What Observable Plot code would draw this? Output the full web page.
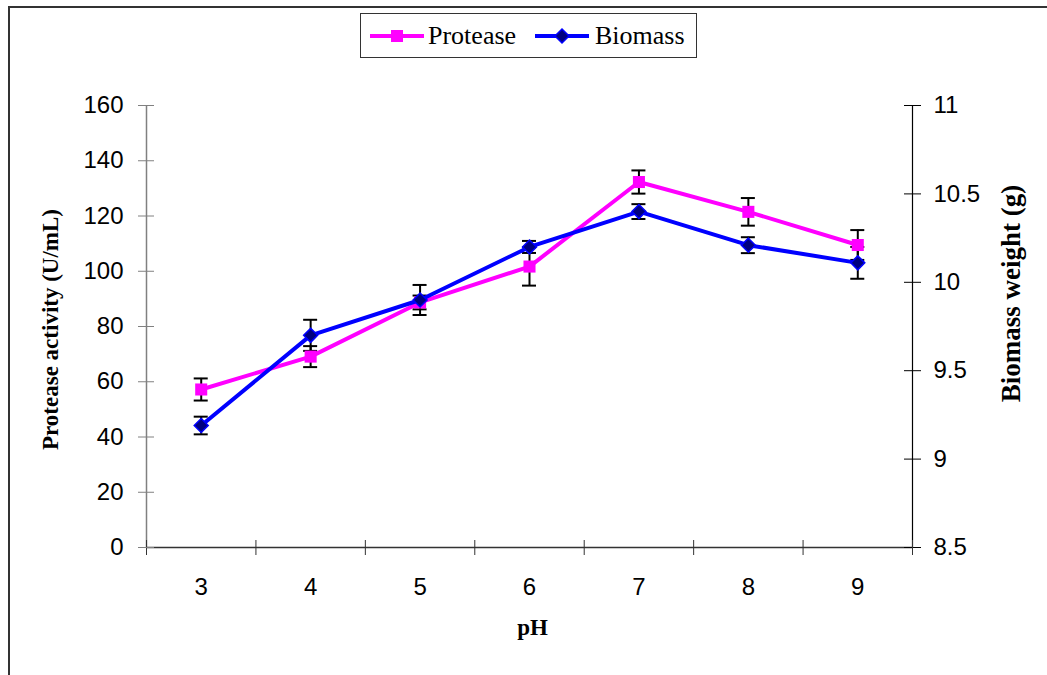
<!DOCTYPE html>
<html>
<head>
<meta charset="utf-8">
<script src="https://cdn.jsdelivr.net/npm/d3@7"></script>
<script src="https://cdn.jsdelivr.net/npm/@observablehq/plot@0.6"></script>
<style>
  html, body { margin: 0; padding: 0; background: #fff; }
  #page { position: relative; width: 1047px; height: 675px; overflow: hidden; background: #fff; }
  #frame { position: absolute; left: 8px; top: 6px; width: 1040px; height: 700px; z-index: 2; pointer-events: none;
           border-top: 2px solid #333; border-left: 2px solid #333; box-sizing: border-box; }
  #header { position: relative; height: 60px; }
  #legend { position: absolute; left: 360px; top: 13px; width: 337px; height: 45px;
            border: 1px solid #333; box-sizing: border-box; background: #fff;
            font-family: "Liberation Serif", "Times New Roman", serif; font-size: 26px; }
  #legend .item { position: absolute; top: 0; height: 43px; line-height: 43px; }
  #legend svg { position: absolute; top: 0; }
  #chart { position: absolute; left: 0; top: 60px; }
</style>
</head>
<body>
<div id="page">
  <div id="frame"></div>
  <div id="header"><div id="legend"></div></div>
  <div id="chart"></div>
</div>
<script>
// ---- data ----
const pH = [3, 4, 5, 6, 7, 8, 9];
const protease = [57.2, 69.1, 88.7, 101.7, 132.3, 121.5, 109.5];
const proteaseErr = [4.0, 3.8, 2.5, 6.9, 4.2, 5.0, 5.4];
const biomass = [9.19, 9.70, 9.90, 10.20, 10.40, 10.21, 10.11];
const biomassErr = [0.05, 0.088, 0.085, 0.034, 0.042, 0.045, 0.09];
const leftTicks = [0, 20, 40, 60, 80, 100, 120, 140, 160];
const rightTicks = [8.5, 9, 9.5, 10, 10.5, 11];
const seriesNames = ["Protease", "Biomass"];
const colors = {Protease: "#FF00FF", Biomass: "#0000FF"};

// ---- derived ----
const pDomain = [leftTicks[0], leftTicks[leftTicks.length - 1]];
const bDomain = [rightTicks[0], rightTicks[rightTicks.length - 1]];
const bToP = d3.scaleLinear().domain(bDomain).range(pDomain);
const xDomain = [pH[0] - 0.5, pH[pH.length - 1] + 0.5];
const bandEdges = [...pH.map(v => v - 0.5), pH[pH.length - 1] + 0.5];
const rows = pH.map((p, i) => ({
  pH: p,
  protease: protease[i], pLo: protease[i] - proteaseErr[i], pHi: protease[i] + proteaseErr[i],
  biomass: bToP(biomass[i]), bLo: bToP(biomass[i] - biomassErr[i]), bHi: bToP(biomass[i] + biomassErr[i])
}));

const W = 1047, H = 615, mL = 146, mR = 135, mT = 45, mB = 128;
const plotW = W - mL - mR, plotH = H - mT - mB;
const serif = "Liberation Serif, Times New Roman, serif";

const chart = Plot.plot({
  width: W, height: H,
  marginLeft: mL, marginRight: mR, marginTop: mT, marginBottom: mB,
  style: {fontFamily: "Liberation Sans, Arial, sans-serif", fontSize: "24px", color: "#000", background: "transparent", overflow: "visible"},
  x: {domain: xDomain},
  y: {domain: pDomain},
  marks: [
    // axes
    Plot.ruleX([xDomain[0]], {stroke: "#808080", strokeWidth: 1.5}),
    Plot.ruleX([xDomain[1]], {stroke: "#000", strokeWidth: 1.2}),
    Plot.ruleY([pDomain[0]], {stroke: "#333", strokeWidth: 1.5}),
    Plot.axisX({ticks: bandEdges, tickFormat: () => "", tickSize: 8, stroke: "#333", label: null}),
    Plot.tickX(bandEdges, {x: d => d, insetTop: plotH - 7, stroke: "#333"}),
    Plot.axisX({ticks: pH, tickFormat: d => String(d), tickSize: 0, tickPadding: 30, label: null}),
    Plot.axisY({ticks: leftTicks, tickSize: 8, tickPadding: 15, stroke: "#808080", label: null}),
    Plot.tickY(leftTicks, {y: d => d, insetRight: plotW - 8, stroke: "#808080"}),
    Plot.axisY({anchor: "right", ticks: rightTicks.map(bToP), tickFormat: v => String(+bToP.invert(v).toFixed(2)),
                tickSize: 8, tickPadding: 13, stroke: "#000", label: null}),
    Plot.tickY(rightTicks.map(bToP), {y: d => d, insetLeft: plotW - 8, stroke: "#000"}),
    // axis titles
    Plot.text(["Protease activity (U/mL)"], {frameAnchor: "left", textAnchor: "middle", dx: -96, dy: 3, rotate: -90,
              fontFamily: serif, fontWeight: "bold", fontSize: 23, fill: "#000"}),
    Plot.text(["Biomass weight (g)"], {frameAnchor: "right", textAnchor: "middle", dx: 99, dy: -33, rotate: -90,
              fontFamily: serif, fontWeight: "bold", fontSize: 27, fill: "#000"}),
    Plot.text(["pH"], {frameAnchor: "bottom", textAnchor: "middle", dx: 3, dy: 87,
              fontFamily: serif, fontWeight: "bold", fontSize: 23, fill: "#000"}),
    // error bars
    Plot.ruleX(rows, {x: "pH", y1: "pLo", y2: "pHi", stroke: "#000", strokeWidth: 2}),
    Plot.ruleY(rows, {x1: "pH", x2: "pH", y: "pLo", insetLeft: -7, insetRight: -7, stroke: "#000", strokeWidth: 2}),
    Plot.ruleY(rows, {x1: "pH", x2: "pH", y: "pHi", insetLeft: -7, insetRight: -7, stroke: "#000", strokeWidth: 2}),
    Plot.ruleX(rows, {x: "pH", y1: "bLo", y2: "bHi", stroke: "#000", strokeWidth: 2}),
    Plot.ruleY(rows, {x1: "pH", x2: "pH", y: "bLo", insetLeft: -7, insetRight: -7, stroke: "#000", strokeWidth: 2}),
    Plot.ruleY(rows, {x1: "pH", x2: "pH", y: "bHi", insetLeft: -7, insetRight: -7, stroke: "#000", strokeWidth: 2}),
    // protease series
    Plot.line(rows, {x: "pH", y: "protease", stroke: colors.Protease, strokeWidth: 4}),
    Plot.dot(rows, {x: "pH", y: "protease", symbol: "square", r: 6.8, fill: colors.Protease, stroke: "none"}),
    // biomass series
    Plot.line(rows, {x: "pH", y: "biomass", stroke: colors.Biomass, strokeWidth: 4}),
    Plot.dot(rows, {x: "pH", y: "biomass", symbol: "diamond2", r: 6.3, fill: "#000080", stroke: colors.Biomass, strokeWidth: 1.5})
  ]
});
document.getElementById("chart").appendChild(chart);

// ---- legend ----
const legend = document.getElementById("legend");
const legendLayout = [
  {name: seriesNames[0], lineX: 8, textX: 67, symbol: "square"},
  {name: seriesNames[1], lineX: 173, textX: 234, symbol: "diamond"}
];
legendLayout.forEach(l => {
  const ns = "http://www.w3.org/2000/svg";
  const svg = document.createElementNS(ns, "svg");
  svg.setAttribute("width", 56); svg.setAttribute("height", 43);
  svg.style.left = l.lineX + "px";
  const line = document.createElementNS(ns, "line");
  line.setAttribute("x1", 1); line.setAttribute("x2", 55); line.setAttribute("y1", 22); line.setAttribute("y2", 22);
  line.setAttribute("stroke", colors[l.name]); line.setAttribute("stroke-width", 4);
  svg.appendChild(line);
  if (l.symbol === "square") {
    const r = document.createElementNS(ns, "rect");
    r.setAttribute("x", 22); r.setAttribute("y", 16); r.setAttribute("width", 12); r.setAttribute("height", 12);
    r.setAttribute("fill", colors[l.name]);
    svg.appendChild(r);
  } else {
    const p = document.createElementNS(ns, "path");
    p.setAttribute("d", "M28,15L35,22L28,29L21,22Z");
    p.setAttribute("fill", "#000080"); p.setAttribute("stroke", colors[l.name]); p.setAttribute("stroke-width", 1.5);
    svg.appendChild(p);
  }
  legend.appendChild(svg);
  const t = document.createElement("div");
  t.className = "item"; t.style.left = l.textX + "px"; t.textContent = l.name;
  legend.appendChild(t);
});
</script>
</body>
</html>
